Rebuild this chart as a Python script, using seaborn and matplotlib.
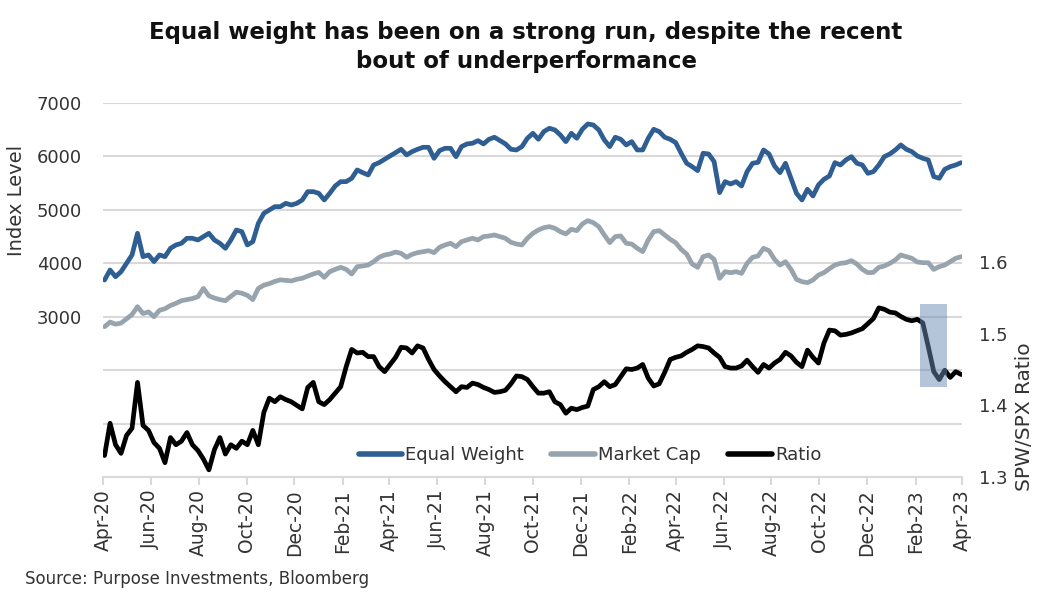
import pandas as pd
import seaborn as sns
import matplotlib.pyplot as plt
import matplotlib.dates as mdates
from matplotlib.patches import Rectangle
from matplotlib.lines import Line2D

# weekly readings, Fridays from 3 Apr 2020 to 31 Mar 2023
first_week = "2020-04-03"

equal_weight = [
    3687, 3874, 3749, 3843, 3999, 4156, 4561, 4124, 4156, 4031,
    4156, 4124, 4280, 4343, 4374, 4468, 4468, 4436, 4499, 4561,
    4436, 4374, 4280, 4436, 4623, 4592, 4343, 4405, 4748, 4935,
    4997, 5060, 5060, 5122, 5091, 5122, 5185, 5341, 5341, 5310,
    5185, 5310, 5447, 5528, 5528, 5590, 5747, 5697, 5653, 5840,
    5884, 5946, 6009, 6071, 6134, 6028, 6090, 6134, 6171, 6171,
    5965, 6109, 6152, 6152, 5996, 6184, 6234, 6246, 6296, 6234,
    6321, 6359, 6296, 6234, 6134, 6121, 6184, 6340, 6433, 6321,
    6465, 6527, 6496, 6402, 6277, 6433, 6340, 6508, 6608, 6589,
    6496, 6309, 6184, 6359, 6321, 6215, 6277, 6121, 6121, 6340,
    6508, 6465, 6359, 6321, 6259, 6059, 5872, 5809, 5734, 6059,
    6046, 5903, 5322, 5528, 5484, 5528, 5447, 5715, 5872, 5890,
    6121, 6046, 5821, 5697, 5872, 5591, 5310, 5185, 5385, 5260,
    5466, 5572, 5634, 5884, 5840, 5934, 5996, 5872, 5840, 5684,
    5715, 5840, 5996, 6046, 6121, 6215, 6134, 6090, 6009, 5965,
    5934, 5622, 5591, 5759, 5809, 5840, 5884,
]

market_cap = [
    2813, 2900, 2860, 2880, 2960, 3040, 3188, 3060, 3090, 3000,
    3120, 3150, 3210, 3250, 3300, 3320, 3340, 3375, 3530, 3390,
    3350, 3320, 3300, 3380, 3460, 3440, 3400, 3320, 3530, 3590,
    3620, 3660, 3690, 3680, 3670, 3700, 3720, 3760, 3800, 3830,
    3737, 3843, 3886, 3924, 3886, 3799, 3936, 3949, 3968, 4030,
    4112, 4155, 4174, 4211, 4186, 4112, 4168, 4199, 4218, 4236,
    4199, 4299, 4343, 4374, 4311, 4405, 4436, 4468, 4436, 4499,
    4511, 4530, 4499, 4468, 4393, 4361, 4343, 4468, 4561, 4623,
    4667, 4686, 4655, 4592, 4549, 4636, 4611, 4736, 4798, 4760,
    4686, 4530, 4386, 4499, 4511, 4374, 4361, 4280, 4218, 4436,
    4592, 4611, 4530, 4449, 4386, 4261, 4174, 3986, 3924, 4124,
    4155, 4074, 3718, 3843, 3824, 3843, 3812, 3999, 4112, 4137,
    4280, 4236, 4074, 3968, 4030, 3886, 3699, 3656, 3637, 3687,
    3780, 3824, 3899, 3968, 3999, 4011, 4049, 3986, 3886, 3824,
    3830, 3924, 3949, 3999, 4062, 4155, 4124, 4093, 4024, 4011,
    4011, 3886, 3936, 3968, 4030, 4093, 4124,
]

ratio = [
    1.330, 1.375, 1.345, 1.333, 1.358, 1.368, 1.432, 1.372, 1.365, 1.348,
    1.340, 1.320, 1.355, 1.345, 1.350, 1.362, 1.345, 1.337, 1.325, 1.310,
    1.338, 1.355, 1.332, 1.345, 1.340, 1.350, 1.345, 1.365, 1.345, 1.390,
    1.410, 1.405, 1.412, 1.408, 1.405, 1.400, 1.395, 1.425, 1.432, 1.405,
    1.401, 1.408, 1.417, 1.426, 1.454, 1.478, 1.473, 1.474, 1.468, 1.468,
    1.454, 1.447, 1.457, 1.467, 1.481, 1.480, 1.473, 1.483, 1.480, 1.464,
    1.450, 1.441, 1.433, 1.426, 1.419, 1.426, 1.425, 1.431, 1.429, 1.425,
    1.422, 1.418, 1.419, 1.421, 1.430, 1.441, 1.440, 1.436, 1.426, 1.417,
    1.417, 1.419, 1.405, 1.401, 1.389, 1.396, 1.394, 1.397, 1.399, 1.422,
    1.426, 1.433, 1.426, 1.429, 1.440, 1.451, 1.450, 1.452, 1.457, 1.438,
    1.427, 1.430, 1.446, 1.464, 1.467, 1.469, 1.474, 1.478, 1.483, 1.482,
    1.480, 1.473, 1.467, 1.454, 1.452, 1.452, 1.455, 1.463, 1.454, 1.446,
    1.457, 1.452, 1.459, 1.464, 1.474, 1.469, 1.460, 1.454, 1.477, 1.467,
    1.459, 1.487, 1.505, 1.504, 1.498, 1.499, 1.501, 1.504, 1.507, 1.514,
    1.521, 1.536, 1.534, 1.530, 1.529, 1.524, 1.520, 1.518, 1.520, 1.515,
    1.482, 1.447, 1.436, 1.449, 1.439, 1.447, 1.443,
]

left_ticks = [0, 1000, 2000, 3000, 4000, 5000, 6000, 7000]
left_labels = ["", "", "", "3000", "4000", "5000", "6000", "7000"]
right_ticks = [1.3, 1.4, 1.5, 1.6]

# shaded box around the March 2023 drop
box_start, box_end = "2023-02-06", "2023-03-13"
box_low, box_high = 1.426, 1.542

EW_COLOR = "#2E5E92"
MC_COLOR = "#97A3AD"
RATIO_COLOR = "#000000"
GRID = "#D9D9D9"
TEXT = "#333333"

dates = pd.date_range(first_week, periods=len(equal_weight), freq="7D")
df = pd.DataFrame({
    "Date": dates,
    "Equal Weight": equal_weight,
    "Market Cap": market_cap,
    "Ratio": ratio,
})

sns.set_theme(style="white")
plt.rcParams["font.family"] = ["DejaVu Sans"]

fig = plt.figure(figsize=(10.52, 6.03), dpi=100)
ax = fig.add_axes([103 / 1052, 126 / 603, 859 / 1052, 374 / 603])
ax2 = ax.twinx()

sns.lineplot(data=df, x="Date", y="Equal Weight", ax=ax, color=EW_COLOR,
             lw=3.4, legend=False)
sns.lineplot(data=df, x="Date", y="Market Cap", ax=ax, color=MC_COLOR,
             lw=3.4, legend=False)
sns.lineplot(data=df, x="Date", y="Ratio", ax=ax2, color=RATIO_COLOR,
             lw=3.4, legend=False)

b0, b1 = mdates.date2num(pd.Timestamp(box_start)), mdates.date2num(pd.Timestamp(box_end))
ax2.add_patch(Rectangle((b0, box_low), b1 - b0, box_high - box_low,
                        facecolor="#6B8BB5", alpha=0.5, lw=0, zorder=5))

# left axis
ax.set_ylim(0, 7000)
ax.set_yticks(left_ticks)
ax.set_yticklabels(left_labels)
ax.yaxis.grid(True, color=GRID, lw=1.5)
ax.xaxis.grid(False)
ax.set_ylabel("")
ax.set_xlabel("")

# right axis
ax2.set_ylim(1.3, 1.3 + 0.3 * 374 / 215)
ax2.set_yticks(right_ticks)
ax2.set_yticklabels([f"{t:.1f}" for t in right_ticks])
ax2.set_ylabel("")
ax2.grid(False)

ax.set_xlim(pd.Timestamp("2020-04-01"), pd.Timestamp("2023-04-01"))
ax.xaxis.set_major_locator(mdates.MonthLocator(bymonth=[2, 4, 6, 8, 10, 12]))
ax.xaxis.set_major_formatter(mdates.DateFormatter("%b-%y"))

for a in (ax, ax2):
    for side in ("top", "left", "right", "bottom"):
        a.spines[side].set_visible(False)
ax.spines["bottom"].set_visible(True)
ax.spines["bottom"].set_color(GRID)
ax.spines["bottom"].set_linewidth(1.5)

ax.tick_params(axis="x", which="major", direction="out", length=6, width=1.5,
               color=GRID, labelsize=13.5, labelcolor=TEXT, rotation=90, pad=3,
               bottom=True)
ax.tick_params(axis="y", length=0, labelsize=13, labelcolor=TEXT, pad=15)
ax2.tick_params(axis="y", length=0, labelsize=13, labelcolor=TEXT, pad=12)

handles = [
    Line2D([], [], color=EW_COLOR, lw=4),
    Line2D([], [], color=MC_COLOR, lw=4),
    Line2D([], [], color=RATIO_COLOR, lw=4),
]
ax2.legend(handles, ["Equal Weight", "Market Cap", "Ratio"], loc="center",
           bbox_to_anchor=(0.567, 0.059), ncol=3, frameon=False, fontsize=13,
           handlelength=2.4, handletextpad=0.2, columnspacing=1.5,
           labelcolor=TEXT)

fig.text(17 / 1052, 1 - 200 / 603, "Index Level", rotation=90, ha="center",
         va="center", fontsize=14, color=TEXT)
fig.text(1025 / 1052, 1 - 417 / 603, "SPW/SPX Ratio", rotation=90,
         ha="center", va="center", fontsize=14.5, color=TEXT)

fig.text(0.5, 1 - 47 / 603,
         "Equal weight has been on a strong run, despite the recent\nbout of underperformance",
         ha="center", va="center", fontsize=16.5, fontweight="bold",
         color="#111111", linespacing=1.3)

fig.text(25 / 1052, 1 - 579 / 603, "Source: Purpose Investments, Bloomberg",
         ha="left", va="center", fontsize=12, color=TEXT)

fig.savefig("out.png", dpi=100)
